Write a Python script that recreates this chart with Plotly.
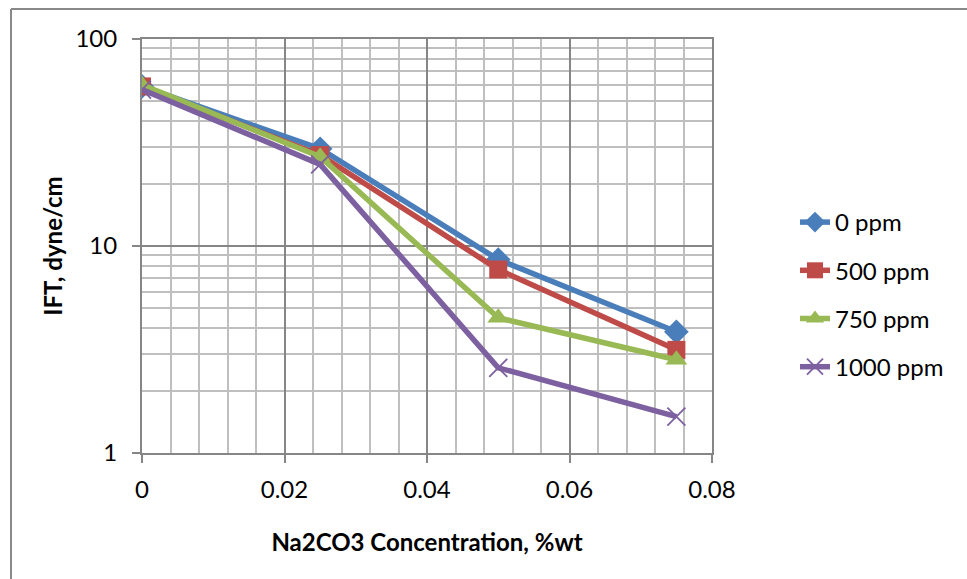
import plotly.graph_objects as go

conc = [0, 0.025, 0.05, 0.075]
series_names = ["0 ppm", "500 ppm", "750 ppm", "1000 ppm"]
ift_0 = [59, 29.5, 8.6, 3.85]
ift_500 = [59, 27.5, 7.7, 3.15]
ift_750 = [60, 27, 4.5, 2.82]
ift_1000 = [57, 24.8, 2.58, 1.5]
series_values = [ift_0, ift_500, ift_750, ift_1000]
colors = ["#4A7EBB", "#BE4B48", "#98B954", "#7D60A0"]
symbols = ["diamond", "square", "triangle-up", "x-thin-open"]
sizes = [19, 18, 19, 18]

x_ticks = [0, 0.02, 0.04, 0.06, 0.08]
x_ticklabels = ["0", "0.02", "0.04", "0.06", "0.08"]
y_ticks = [1, 10, 100]
y_ticklabels = ["1", "10", "100"]
y_minor = [2, 3, 4, 5, 6, 7, 8, 9, 20, 30, 40, 50, 60, 70, 80, 90]

FONT = "Lato"

fig = go.Figure()
for i, (name, vals) in enumerate(zip(series_names, series_values)):
    marker = dict(symbol=symbols[i], size=sizes[i], color=colors[i])
    if symbols[i] == "x-thin-open":
        marker["line"] = dict(color=colors[i], width=1.8)
    fig.add_trace(go.Scatter(
        x=conc, y=vals, name=name, mode="lines+markers",
        line=dict(color=colors[i], width=5.5),
        marker=marker, legendgroup=name,
    ))

fig.update_layout(
    width=967, height=579,
    margin=dict(l=142, r=255, t=39, b=126),
    paper_bgcolor="white", plot_bgcolor="white",
    font=dict(family=FONT, color="black"),
    showlegend=True,
    legend=dict(
        xref="container", yref="container",
        x=795 / 967, xanchor="left",
        y=1 - 200 / 579, yanchor="top",
        font=dict(family=FONT, size=24, color="black"),
        traceorder="grouped", tracegroupgap=14,
        bgcolor="rgba(0,0,0,0)",
    ),
    shapes=[
        dict(type="line", xref="paper", yref="paper",
             x0=-131 / 570, x1=-131 / 570, y0=-126 / 414, y1=1 + 30 / 414,
             line=dict(color="#898989", width=2)),
        dict(type="line", xref="paper", yref="paper",
             x0=-131 / 570, x1=1 + 255 / 570, y0=1 + 30 / 414, y1=1 + 30 / 414,
             line=dict(color="#898989", width=2)),
    ],
)

fig.update_xaxes(
    range=[0, 0.08],
    tickmode="array", tickvals=x_ticks, ticktext=x_ticklabels,
    tickfont=dict(family=FONT, size=24, color="black"),
    ticks="outside", ticklen=8, tickcolor="#868686", tickwidth=1.5,
    ticklabelstandoff=6,
    showline=True, linecolor="#868686", linewidth=2, mirror=True,
    showgrid=True, gridcolor="#868686", gridwidth=1.5,
    minor=dict(dtick=0.004, tick0=0, showgrid=True, gridcolor="#BFBFBF", gridwidth=2, ticks=""),
    zeroline=False,
    title=dict(text="<b>Na2CO3 Concentration, %wt</b>",
               font=dict(family=FONT, size=24, color="black"), standoff=32),
)
fig.update_yaxes(
    type="log", range=[0, 2],
    tickmode="array", tickvals=y_ticks, ticktext=y_ticklabels,
    tickfont=dict(family=FONT, size=24, color="black"),
    ticks="outside", ticklen=8, tickcolor="#868686", tickwidth=1.5,
    ticklabelstandoff=10,
    showline=True, linecolor="#868686", linewidth=2, mirror=True,
    showgrid=True, gridcolor="#868686", gridwidth=1.5,
    minor=dict(tickmode="array", tickvals=y_minor, showgrid=True, gridcolor="#BFBFBF", gridwidth=2, ticks=""),
    zeroline=False,
    title=dict(text="<b>IFT, dyne/cm</b>",
               font=dict(family=FONT, size=24, color="black"), standoff=6),
)

fig.write_html("out.html")
